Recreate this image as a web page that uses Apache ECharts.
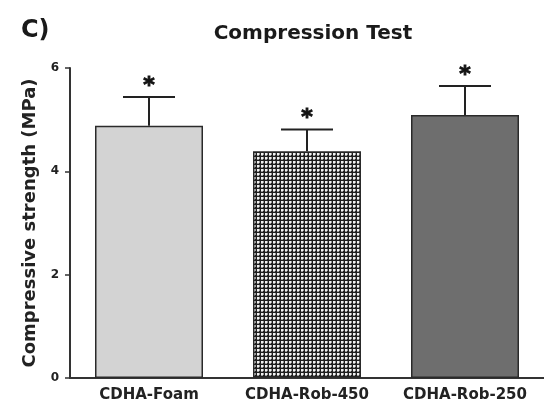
<!DOCTYPE html>
<html>
<head>
<meta charset="utf-8">
<script src="https://cdn.jsdelivr.net/npm/echarts@6/dist/echarts.min.js"></script>
<style>
html,body{margin:0;padding:0;background:#fff;}
#chart{width:544px;height:406px;}
</style>
</head>
<body>
<div id="chart"></div>
<script>
const categories = ['CDHA-Foam', 'CDHA-Rob-450', 'CDHA-Rob-250'];
const means = [4.88, 4.39, 5.09];
const errors = [0.56, 0.42, 0.56];
const significance = ['*', '*', '*'];
const yMin = 0, yMax = 6, yStep = 2;

function makePattern() {
  const c = document.createElement('canvas');
  c.width = 4; c.height = 4;
  const g = c.getContext('2d');
  g.fillStyle = '#1e1e1e';
  g.fillRect(0, 0, 4, 4);
  g.fillStyle = '#f2f2f2';
  g.fillRect(1, 1, 2, 2);
  g.fillStyle = '#9a9a9a';
  g.fillRect(3, 1, 1, 2);
  g.fillRect(1, 3, 2, 1);
  return c;
}

const fills = ['#d3d3d3', { image: makePattern(), repeat: 'repeat' }, '#6e6e6e'];
const FONT = 'DejaVu Sans';

const chart = echarts.init(document.getElementById('chart'), null, { renderer: 'canvas' });

const barData = means.map((v, i) => ({ value: v, itemStyle: { color: fills[i] } }));
const errData = means.map((v, i) => [i, v, v + errors[i], significance[i]]);

chart.setOption({
  animation: false,
  backgroundColor: '#fff',
  title: [
    { text: 'Compression Test', left: 308, top: 19, textAlign: 'center',
      textStyle: { fontFamily: FONT, fontWeight: 'bold', fontSize: 20, color: '#1a1a1a' } },
    { text: 'C)', left: 16, top: 14,
      textStyle: { fontFamily: FONT, fontWeight: 'bold', fontSize: 24, color: '#1a1a1a' } }
  ],
  grid: { left: 70, top: 68, width: 480, height: 310, containLabel: false },
  xAxis: {
    type: 'category',
    data: categories,
    boundaryGap: true,
    axisLine: { lineStyle: { color: '#333', width: 2 } },
    axisTick: { alignWithLabel: true, length: 6, lineStyle: { color: '#333', width: 1.5 } },
    axisLabel: { interval: 0, hideOverlap: false, fontFamily: FONT, fontWeight: 'bold', fontSize: 15, color: '#222', margin: 10 }
  },
  yAxis: {
    type: 'value',
    min: yMin, max: yMax, interval: yStep,
    name: 'Compressive strength (MPa)',
    nameLocation: 'middle',
    nameGap: 27,
    nameRotate: 90,
    nameTextStyle: { fontFamily: FONT, fontWeight: 'bold', fontSize: 18, color: '#222' },
    splitLine: { show: false },
    axisLine: { show: true, lineStyle: { color: '#333', width: 2 } },
    axisTick: { show: true, length: 5, lineStyle: { color: '#333', width: 1.5 } },
    axisLabel: { fontFamily: FONT, fontWeight: 'bold', fontSize: 12, color: '#222', margin: 11 }
  },
  series: [
    {
      type: 'bar',
      data: barData,
      barWidth: 108,
      itemStyle: { borderColor: '#2a2a2a', borderWidth: 1.5 }
    },
    {
      type: 'custom',
      data: errData,
      z: 5,
      renderItem: function (params, api) {
        const x = api.value(0);
        const top = api.coord([x, api.value(1)]);
        const cap = api.coord([x, api.value(2)]);
        const hw = 26;
        return {
          type: 'group',
          children: [
            { type: 'line', shape: { x1: top[0], y1: top[1], x2: cap[0], y2: cap[1] },
              style: { stroke: '#222', lineWidth: 2 } },
            { type: 'line', shape: { x1: cap[0] - hw, y1: cap[1], x2: cap[0] + hw, y2: cap[1] },
              style: { stroke: '#222', lineWidth: 2 } },
            { type: 'text', x: cap[0], y: cap[1] - 11,
              style: { text: api.value(3), fontFamily: FONT, fontWeight: 'bold', fontSize: 22,
                       fill: '#111', stroke: '#111', lineWidth: 1, align: 'center', verticalAlign: 'middle' } }
          ]
        };
      }
    }
  ]
});
</script>
</body>
</html>
